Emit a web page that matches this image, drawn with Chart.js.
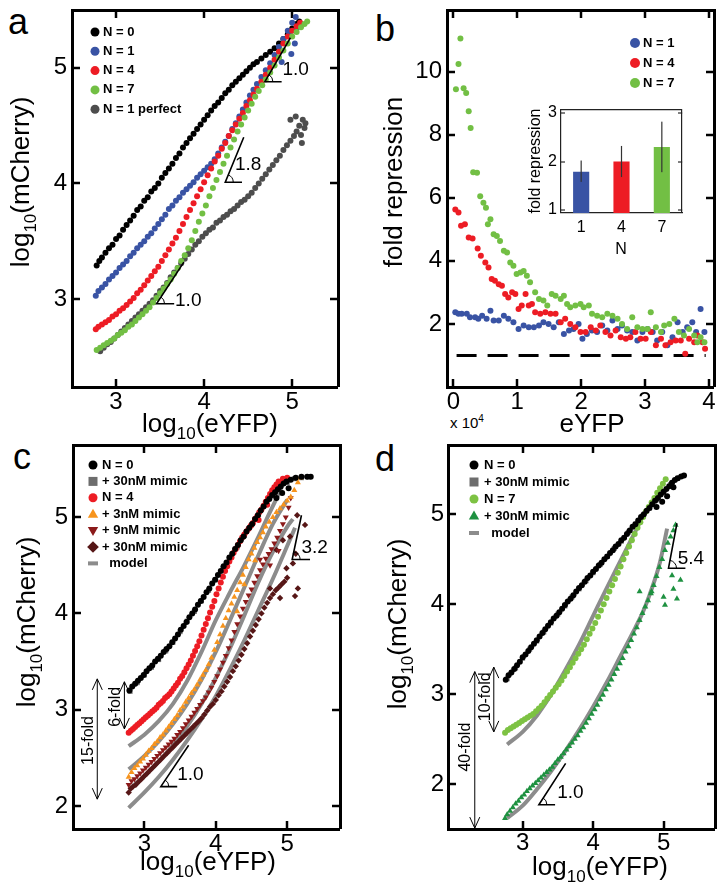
<!DOCTYPE html>
<html>
<head>
<meta charset="utf-8">
<script src="https://cdn.jsdelivr.net/npm/chart.js@4"></script>
<style>
  body { margin: 0; background: #fff; width: 725px; height: 891px; position: relative; overflow: hidden;
         font-family: "Liberation Sans", Arial, sans-serif; }
  canvas { position: absolute; }
  .letter { position: absolute; font-size: 36px; line-height: 1; color: #000; }
  .mult { position: absolute; font-size: 15px; line-height: 1; color: #000; }
  .mult sup { font-size: 10px; vertical-align: 6px; }
</style>
</head>
<body>
<div class="letter" style="left:8px;top:4px">a</div>
<div class="letter" style="left:375px;top:11px">b</div>
<div class="letter" style="left:13px;top:439px">c</div>
<div class="letter" style="left:375px;top:441px">d</div>
<div class="mult" style="left:450px;top:414px">x 10<sup>4</sup></div>

<canvas id="pa" width="362" height="440" style="left:0;top:0"></canvas>
<canvas id="pb" width="363" height="440" style="left:362px;top:0"></canvas>
<canvas id="inset" width="170" height="160" style="left:520px;top:100px"></canvas>
<canvas id="pc" width="362" height="451" style="left:0;top:440px"></canvas>
<canvas id="pd" width="363" height="451" style="left:362px;top:440px"></canvas>

<script>
const FONT = '"Liberation Sans", Arial, sans-serif';
Chart.defaults.font.family = FONT;
Chart.defaults.color = '#000';

// ---- panel a : log10(mCherry) vs log10(eYFP) ----
const aN0 = [[2.78,3.29],[2.81,3.33],[2.84,3.36],[2.88,3.40],[2.92,3.44],[2.96,3.47],[3.00,3.52],[3.04,3.55],[3.08,3.60],[3.12,3.64],[3.16,3.68],[3.20,3.72],[3.24,3.77],[3.28,3.80],[3.32,3.85],[3.36,3.88],[3.40,3.93],[3.44,3.96],[3.48,4.00],[3.52,4.05],[3.56,4.09],[3.60,4.13],[3.64,4.17],[3.68,4.22],[3.72,4.26],[3.76,4.31],[3.80,4.35],[3.84,4.39],[3.88,4.43],[3.92,4.47],[3.96,4.51],[4.00,4.55],[4.04,4.59],[4.08,4.63],[4.12,4.67],[4.16,4.70],[4.20,4.74],[4.24,4.78],[4.28,4.81],[4.32,4.85],[4.36,4.88],[4.40,4.91],[4.44,4.94],[4.48,4.97],[4.52,5.00],[4.56,5.03],[4.60,5.05],[4.65,5.08],[4.70,5.11],[4.75,5.14],[4.80,5.17],[4.85,5.21],[4.90,5.25],[4.95,5.29],[5.00,5.34],[5.05,5.38],[5.08,5.40]];
const aN1 = [[2.77,3.03],[2.80,3.07],[2.84,3.10],[2.88,3.13],[2.92,3.17],[2.96,3.20],[3.00,3.23],[3.04,3.27],[3.08,3.30],[3.12,3.33],[3.16,3.37],[3.20,3.40],[3.24,3.44],[3.28,3.47],[3.32,3.50],[3.36,3.54],[3.40,3.57],[3.44,3.61],[3.48,3.65],[3.52,3.69],[3.56,3.73],[3.60,3.78],[3.64,3.81],[3.68,3.85],[3.72,3.88],[3.76,3.92],[3.80,3.95],[3.84,3.98],[3.88,4.01],[3.92,4.05],[3.96,4.08],[4.00,4.11],[4.04,4.14],[4.08,4.17],[4.12,4.21],[4.16,4.26],[4.20,4.31],[4.24,4.36],[4.28,4.41],[4.32,4.47],[4.36,4.52],[4.40,4.58],[4.44,4.64],[4.48,4.70],[4.52,4.76],[4.56,4.81],[4.60,4.86],[4.65,4.92],[4.70,4.98],[4.75,5.04],[4.80,5.11],[4.85,5.18],[4.90,5.25],[4.95,5.32],[5.00,5.39],[5.04,5.44],[4.97,5.30],[5.03,5.21],[4.99,5.12],[4.88,5.05],[5.05,5.34]];
const aN4 = [[2.77,2.74],[2.80,2.76],[2.84,2.78],[2.88,2.80],[2.92,2.82],[2.96,2.85],[3.00,2.87],[3.04,2.90],[3.08,2.92],[3.12,2.95],[3.16,2.98],[3.20,3.01],[3.24,3.05],[3.28,3.08],[3.32,3.12],[3.36,3.16],[3.40,3.20],[3.44,3.24],[3.48,3.28],[3.52,3.33],[3.56,3.38],[3.60,3.43],[3.64,3.48],[3.68,3.53],[3.72,3.59],[3.76,3.65],[3.80,3.71],[3.84,3.77],[3.88,3.83],[3.92,3.89],[3.96,3.95],[4.00,4.01],[4.04,4.07],[4.08,4.13],[4.12,4.19],[4.16,4.24],[4.20,4.30],[4.24,4.35],[4.28,4.41],[4.32,4.46],[4.36,4.51],[4.40,4.56],[4.44,4.61],[4.48,4.67],[4.52,4.72],[4.56,4.77],[4.60,4.82],[4.65,4.88],[4.70,4.94],[4.75,5.00],[4.80,5.07],[4.85,5.14],[4.90,5.21],[4.95,5.27],[5.00,5.32],[5.05,5.36],[5.09,5.39]];
const aN7 = [[2.78,2.56],[2.82,2.58],[2.86,2.60],[2.90,2.62],[2.94,2.64],[2.98,2.66],[3.02,2.69],[3.06,2.71],[3.10,2.73],[3.14,2.76],[3.18,2.78],[3.22,2.81],[3.26,2.84],[3.30,2.87],[3.34,2.90],[3.38,2.93],[3.42,2.97],[3.46,3.01],[3.50,3.05],[3.54,3.09],[3.58,3.13],[3.62,3.17],[3.66,3.22],[3.70,3.27],[3.74,3.33],[3.78,3.38],[3.82,3.44],[3.86,3.51],[3.90,3.59],[3.94,3.67],[3.98,3.74],[4.02,3.81],[4.06,3.89],[4.10,3.96],[4.14,4.03],[4.18,4.10],[4.22,4.17],[4.26,4.24],[4.30,4.31],[4.34,4.38],[4.38,4.45],[4.42,4.51],[4.46,4.57],[4.50,4.63],[4.54,4.69],[4.58,4.75],[4.62,4.80],[4.66,4.85],[4.70,4.90],[4.75,4.96],[4.80,5.02],[4.85,5.09],[4.90,5.15],[4.95,5.21],[5.00,5.27],[5.05,5.31],[5.10,5.35],[5.14,5.38],[5.17,5.40]];
const aN1p = [[2.82,2.55],[2.86,2.58],[2.90,2.61],[2.94,2.63],[2.98,2.66],[3.02,2.69],[3.06,2.72],[3.10,2.75],[3.14,2.78],[3.18,2.81],[3.22,2.84],[3.26,2.87],[3.30,2.90],[3.34,2.93],[3.38,2.96],[3.42,2.99],[3.46,3.03],[3.50,3.07],[3.54,3.10],[3.58,3.14],[3.62,3.19],[3.66,3.23],[3.70,3.27],[3.74,3.31],[3.78,3.35],[3.82,3.39],[3.86,3.43],[3.90,3.47],[3.94,3.50],[3.98,3.54],[4.02,3.57],[4.06,3.60],[4.10,3.62],[4.14,3.66],[4.18,3.68],[4.22,3.71],[4.26,3.73],[4.30,3.76],[4.34,3.78],[4.38,3.81],[4.42,3.84],[4.46,3.86],[4.50,3.89],[4.54,3.92],[4.58,3.96],[4.62,4.00],[4.66,4.04],[4.70,4.08],[4.74,4.12],[4.78,4.16],[4.82,4.20],[4.86,4.24],[4.90,4.29],[4.94,4.33],[4.98,4.37],[5.02,4.41],[5.05,4.45],[5.08,4.50],[5.12,4.55],[5.10,4.42],[5.14,4.48],[5.04,4.58],[5.11,4.35],[5.15,4.52],[4.98,4.55]];
const aTicksX = [3, 4, 5];
const aTicksY = [3, 4, 5];

// ---- panel b : fold repression vs eYFP (x 10^4) ----
const bN1 = [[0.03,2.37],[0.08,2.32],[0.13,2.32],[0.21,2.32],[0.26,2.21],[0.34,2.21],[0.39,2.16],[0.45,2.26],[0.52,2.16],[0.58,2.42],[0.63,2.11],[0.71,2.11],[0.79,2.26],[0.86,2.16],[0.94,2.05],[1.02,1.84],[1.10,1.95],[1.18,1.89],[1.26,1.89],[1.34,1.95],[1.41,2.05],[1.49,2.00],[1.57,1.89],[1.65,2.05],[1.73,1.68],[1.81,1.79],[1.88,1.84],[1.96,2.00],[2.02,1.53],[2.09,1.68],[2.17,1.79],[2.25,1.74],[2.33,1.95],[2.41,1.79],[2.49,2.11],[2.57,1.84],[2.64,1.95],[2.72,1.79],[2.80,1.74],[2.88,1.47],[2.96,1.74],[3.04,1.84],[3.12,1.74],[3.19,1.47],[3.27,1.74],[3.35,1.32],[3.43,1.58],[3.51,2.05],[3.59,1.74],[3.66,1.89],[3.74,2.05],[3.80,1.74],[3.87,2.47],[3.93,1.74]];
const bN4 = [[0.03,5.63],[0.08,5.53],[0.12,5.11],[0.18,5.16],[0.24,4.74],[0.30,4.71],[0.38,4.39],[0.43,4.16],[0.50,3.95],[0.55,3.79],[0.60,3.42],[0.65,3.37],[0.71,3.26],[0.76,3.21],[0.81,2.95],[0.86,2.84],[0.92,3.00],[0.97,2.95],[1.02,2.47],[1.07,2.58],[1.13,2.95],[1.18,2.58],[1.23,2.63],[1.28,2.37],[1.36,2.32],[1.44,2.37],[1.52,2.32],[1.60,2.32],[1.68,2.05],[1.75,2.16],[1.83,2.00],[1.91,1.89],[1.99,1.74],[2.07,1.74],[2.15,1.89],[2.23,1.79],[2.30,1.95],[2.38,1.74],[2.46,1.63],[2.54,1.79],[2.62,1.58],[2.70,1.53],[2.77,1.58],[2.85,1.74],[2.93,1.53],[3.01,1.53],[3.09,1.74],[3.17,1.32],[3.25,1.53],[3.32,1.32],[3.40,1.42],[3.48,1.47],[3.56,1.47],[3.63,1.05],[3.69,1.53],[3.77,1.42],[3.82,1.63],[3.90,1.42],[3.94,1.21]];
const bN7 = [[0.04,9.44],[0.08,10.24],[0.11,11.05],[0.16,9.47],[0.20,9.32],[0.24,8.74],[0.27,8.21],[0.31,6.81],[0.37,6.79],[0.42,6.05],[0.47,5.84],[0.51,5.68],[0.54,5.16],[0.58,5.32],[0.63,4.84],[0.68,4.79],[0.73,4.63],[0.79,4.32],[0.84,4.26],[0.89,3.95],[0.94,3.84],[0.99,3.58],[1.05,3.63],[1.10,3.68],[1.15,3.53],[1.20,3.32],[1.28,3.00],[1.34,2.79],[1.41,2.74],[1.47,2.58],[1.54,2.95],[1.60,2.89],[1.68,2.79],[1.73,2.89],[1.78,2.63],[1.83,2.53],[1.91,2.58],[1.99,2.63],[2.04,2.53],[2.12,2.58],[2.17,2.32],[2.25,2.26],[2.33,2.21],[2.41,2.32],[2.49,2.26],[2.57,2.16],[2.64,2.00],[2.72,1.84],[2.80,2.21],[2.88,1.89],[2.96,1.84],[3.04,1.84],[3.09,2.37],[3.17,1.89],[3.25,1.74],[3.30,1.95],[3.38,2.00],[3.46,2.16],[3.53,1.74],[3.61,1.63],[3.69,1.84],[3.77,1.63],[3.82,1.42],[3.87,1.58],[3.93,1.42]];
const bNoRepression = [[0.05,1],[3.95,1]];
const bTicksX = [0, 1, 2, 3, 4];
const bTicksY = [2, 4, 6, 8, 10];

// inset of panel b
const insetN = ['1', '4', '7'];
const insetFold = [1.79, 2.0, 2.3];
const insetLow = [1.58, 1.68, 1.78];
const insetHigh = [2.02, 2.32, 2.82];
const insetTicksY = [1, 2, 3];

// ---- panel c ----
const cN0 = [[2.79,3.20],[2.83,3.24],[2.87,3.27],[2.91,3.30],[2.95,3.33],[2.99,3.36],[3.03,3.40],[3.07,3.43],[3.11,3.46],[3.15,3.50],[3.19,3.53],[3.23,3.56],[3.27,3.60],[3.31,3.63],[3.35,3.66],[3.39,3.70],[3.43,3.74],[3.47,3.78],[3.51,3.83],[3.55,3.87],[3.59,3.91],[3.63,3.96],[3.67,4.00],[3.71,4.04],[3.75,4.09],[3.79,4.13],[3.83,4.17],[3.87,4.22],[3.91,4.26],[3.95,4.31],[3.99,4.35],[4.03,4.40],[4.07,4.44],[4.11,4.49],[4.15,4.53],[4.19,4.58],[4.23,4.62],[4.27,4.67],[4.31,4.71],[4.35,4.76],[4.39,4.80],[4.43,4.85],[4.47,4.89],[4.51,4.93],[4.55,4.98],[4.59,5.02],[4.63,5.07],[4.67,5.11],[4.71,5.16],[4.75,5.19],[4.79,5.23],[4.83,5.26],[4.87,5.29],[4.91,5.32],[4.95,5.35],[4.99,5.37],[5.05,5.39],[5.12,5.41],[5.20,5.42],[5.28,5.42],[5.33,5.42],[4.93,5.25],[5.02,5.30],[4.85,5.20]];
const cN0mimic = [[2.80,3.19],[2.90,3.28],[3.00,3.36],[3.10,3.44],[3.20,3.52],[3.30,3.61],[3.40,3.70],[3.50,3.81],[3.60,3.92],[3.70,4.02],[3.80,4.13],[3.90,4.24],[4.00,4.35],[4.10,4.47],[4.20,4.58],[4.30,4.69],[4.40,4.81],[4.50,4.92],[4.60,5.03],[4.70,5.14],[4.80,5.22],[4.90,5.30],[5.00,5.36],[5.10,5.40],[5.20,5.41],[5.30,5.42]];
const cN4 = [[2.78,2.76],[2.81,2.78],[2.84,2.80],[2.87,2.82],[2.90,2.84],[2.93,2.86],[2.96,2.88],[2.99,2.90],[3.02,2.92],[3.05,2.94],[3.08,2.96],[3.11,2.98],[3.14,3.00],[3.17,3.02],[3.20,3.05],[3.23,3.07],[3.26,3.09],[3.29,3.12],[3.32,3.14],[3.35,3.16],[3.38,3.19],[3.41,3.22],[3.44,3.25],[3.47,3.28],[3.50,3.32],[3.53,3.35],[3.56,3.39],[3.59,3.43],[3.62,3.47],[3.65,3.51],[3.68,3.56],[3.71,3.61],[3.74,3.66],[3.77,3.71],[3.80,3.77],[3.83,3.83],[3.86,3.89],[3.89,3.95],[3.92,4.01],[3.95,4.07],[3.98,4.13],[4.01,4.20],[4.04,4.26],[4.07,4.32],[4.10,4.38],[4.13,4.44],[4.16,4.49],[4.19,4.54],[4.22,4.58],[4.25,4.63],[4.28,4.67],[4.31,4.71],[4.34,4.75],[4.37,4.79],[4.40,4.82],[4.43,4.85],[4.46,4.88],[4.49,4.91],[4.52,4.94],[4.55,4.98],[4.58,5.01],[4.61,5.05],[4.64,5.08],[4.67,5.12],[4.70,5.16],[4.73,5.20],[4.76,5.24],[4.79,5.28],[4.82,5.31],[4.85,5.34],[4.88,5.37],[4.94,5.40],[5.00,5.41],[4.60,4.97],[4.72,5.13]];
const cN4m3 = [[2.78,2.30],[2.82,2.35],[2.86,2.39],[2.90,2.42],[2.94,2.46],[2.98,2.49],[3.02,2.53],[3.06,2.57],[3.10,2.60],[3.14,2.64],[3.18,2.67],[3.22,2.71],[3.26,2.74],[3.30,2.78],[3.34,2.82],[3.38,2.86],[3.42,2.90],[3.46,2.94],[3.50,2.99],[3.54,3.03],[3.58,3.08],[3.62,3.12],[3.66,3.17],[3.70,3.21],[3.74,3.26],[3.78,3.31],[3.82,3.36],[3.86,3.41],[3.90,3.47],[3.94,3.54],[3.98,3.62],[4.02,3.70],[4.06,3.78],[4.10,3.87],[4.14,3.95],[4.18,4.03],[4.22,4.10],[4.26,4.17],[4.30,4.24],[4.34,4.32],[4.38,4.40],[4.42,4.48],[4.46,4.56],[4.50,4.62],[4.54,4.68],[4.58,4.74],[4.62,4.79],[4.66,4.84],[4.70,4.90],[4.75,4.95],[4.80,5.00],[4.85,5.05],[4.90,5.09],[4.95,5.13],[5.00,5.17],[5.05,5.21],[5.10,5.28],[5.15,5.36],[5.18,5.41],[4.30,4.02],[4.40,4.30],[4.55,4.55]];
const cN4m9 = [[2.78,2.22],[2.82,2.26],[2.86,2.28],[2.90,2.31],[2.94,2.34],[2.98,2.37],[3.02,2.40],[3.06,2.43],[3.10,2.46],[3.14,2.49],[3.18,2.52],[3.22,2.55],[3.26,2.58],[3.30,2.61],[3.34,2.64],[3.38,2.67],[3.42,2.70],[3.46,2.74],[3.50,2.77],[3.54,2.81],[3.58,2.85],[3.62,2.89],[3.66,2.93],[3.70,2.97],[3.74,3.01],[3.78,3.05],[3.82,3.09],[3.86,3.13],[3.90,3.18],[3.94,3.23],[3.98,3.29],[4.02,3.35],[4.06,3.42],[4.10,3.49],[4.14,3.56],[4.18,3.64],[4.22,3.72],[4.26,3.81],[4.30,3.89],[4.34,3.97],[4.38,4.05],[4.42,4.12],[4.46,4.19],[4.50,4.25],[4.54,4.32],[4.58,4.39],[4.62,4.45],[4.66,4.51],[4.70,4.57],[4.74,4.62],[4.78,4.67],[4.82,4.73],[4.86,4.79],[4.90,4.86],[4.94,4.93],[4.98,5.00],[5.02,5.10],[5.05,5.20],[4.76,4.50],[4.88,4.65],[4.62,4.56]];
const cN4m30 = [[2.78,2.14],[2.81,2.18],[2.84,2.20],[2.88,2.22],[2.92,2.25],[2.96,2.28],[3.00,2.31],[3.04,2.34],[3.08,2.37],[3.12,2.40],[3.16,2.43],[3.20,2.46],[3.24,2.49],[3.28,2.52],[3.32,2.55],[3.36,2.58],[3.40,2.61],[3.44,2.64],[3.48,2.67],[3.52,2.70],[3.56,2.73],[3.60,2.76],[3.64,2.79],[3.68,2.82],[3.72,2.85],[3.76,2.88],[3.80,2.91],[3.84,2.95],[3.88,2.99],[3.92,3.03],[3.96,3.06],[4.00,3.10],[4.04,3.15],[4.08,3.19],[4.12,3.24],[4.16,3.29],[4.20,3.34],[4.24,3.40],[4.28,3.45],[4.32,3.51],[4.36,3.57],[4.40,3.63],[4.44,3.69],[4.48,3.76],[4.52,3.82],[4.56,3.88],[4.60,3.94],[4.64,4.00],[4.68,4.06],[4.72,4.11],[4.76,4.16],[4.80,4.20],[4.84,4.24],[4.88,4.27],[4.92,4.30],[4.96,4.33],[5.00,4.37],[5.08,4.52],[5.15,4.26],[5.11,4.18],[4.94,4.76],[4.85,4.66],[5.14,5.02],[5.04,4.80],[5.12,4.62],[4.99,4.47],[4.76,4.26],[4.90,4.16],[5.25,4.92]];
const cModelN4 = [[2.78,2.62],[3.0,2.74],[3.2,2.88],[3.4,3.06],[3.6,3.30],[3.8,3.60],[4.0,3.93],[4.2,4.22],[4.4,4.50],[4.6,4.80],[4.75,5.04],[4.9,5.27]];
const cModelM3 = [[2.78,2.38],[3.0,2.52],[3.2,2.67],[3.4,2.85],[3.6,3.06],[3.8,3.31],[4.0,3.60],[4.2,3.93],[4.4,4.27],[4.6,4.61],[4.8,4.93],[5.0,5.18]];
const cModelM9 = [[2.78,2.17],[3.0,2.31],[3.2,2.46],[3.4,2.63],[3.6,2.83],[3.8,3.06],[4.0,3.33],[4.2,3.64],[4.4,3.98],[4.6,4.33],[4.8,4.64],[5.0,4.90],[5.08,4.98]];
const cModelM30 = [[2.78,1.98],[3.0,2.14],[3.2,2.30],[3.4,2.48],[3.6,2.68],[3.8,2.90],[4.0,3.14],[4.2,3.42],[4.4,3.72],[4.6,4.04],[4.8,4.36],[5.0,4.70],[5.11,4.89]];
const cTicksX = [3, 4, 5];
const cTicksY = [2, 3, 4, 5];

// ---- panel d ----
const dN0 = [[2.76,3.16],[2.80,3.21],[2.84,3.24],[2.88,3.28],[2.92,3.32],[2.96,3.36],[3.00,3.41],[3.04,3.44],[3.08,3.48],[3.12,3.52],[3.16,3.56],[3.20,3.60],[3.24,3.64],[3.28,3.68],[3.32,3.72],[3.36,3.76],[3.40,3.80],[3.44,3.84],[3.48,3.87],[3.52,3.91],[3.56,3.95],[3.60,3.99],[3.64,4.03],[3.68,4.06],[3.72,4.10],[3.76,4.14],[3.80,4.18],[3.84,4.21],[3.88,4.25],[3.92,4.29],[3.96,4.32],[4.00,4.36],[4.04,4.39],[4.08,4.43],[4.12,4.46],[4.16,4.50],[4.20,4.53],[4.24,4.57],[4.28,4.60],[4.32,4.64],[4.36,4.67],[4.40,4.71],[4.44,4.74],[4.48,4.78],[4.52,4.82],[4.56,4.86],[4.60,4.89],[4.64,4.93],[4.68,4.97],[4.72,5.00],[4.76,5.04],[4.80,5.07],[4.84,5.11],[4.88,5.15],[4.92,5.18],[4.96,5.22],[5.00,5.25],[5.04,5.28],[5.08,5.31],[5.12,5.35],[5.16,5.38],[5.20,5.40],[5.25,5.42],[5.29,5.43],[4.98,5.14],[5.05,5.20],[5.14,5.30],[4.90,5.08]];
const dN0mimic = [[2.78,3.17],[2.90,3.29],[3.00,3.40],[3.10,3.50],[3.20,3.59],[3.30,3.69],[3.40,3.79],[3.50,3.89],[3.60,3.98],[3.70,4.08],[3.80,4.17],[3.90,4.26],[4.00,4.35],[4.10,4.44],[4.20,4.53],[4.30,4.62],[4.40,4.70],[4.50,4.80],[4.60,4.89],[4.70,4.98],[4.80,5.07],[4.90,5.16],[5.00,5.24],[5.10,5.33],[5.20,5.40]];
const dN7 = [[2.75,2.57],[2.79,2.60],[2.83,2.62],[2.87,2.64],[2.91,2.66],[2.95,2.68],[2.99,2.70],[3.03,2.72],[3.07,2.74],[3.11,2.76],[3.15,2.78],[3.19,2.81],[3.23,2.84],[3.27,2.87],[3.31,2.91],[3.35,2.95],[3.39,2.99],[3.43,3.03],[3.47,3.07],[3.51,3.11],[3.55,3.15],[3.59,3.20],[3.63,3.25],[3.67,3.30],[3.71,3.35],[3.75,3.40],[3.79,3.45],[3.83,3.50],[3.87,3.55],[3.91,3.61],[3.95,3.67],[3.99,3.73],[4.03,3.79],[4.07,3.86],[4.11,3.93],[4.15,4.00],[4.19,4.07],[4.23,4.14],[4.27,4.21],[4.31,4.28],[4.35,4.35],[4.39,4.42],[4.43,4.50],[4.47,4.57],[4.51,4.64],[4.55,4.71],[4.59,4.78],[4.63,4.85],[4.67,4.91],[4.71,4.97],[4.75,5.03],[4.79,5.08],[4.83,5.13],[4.87,5.18],[4.91,5.24],[4.95,5.29],[4.99,5.34],[5.03,5.39]];
const dN7m30 = [[2.75,1.62],[2.78,1.66],[2.82,1.70],[2.86,1.74],[2.90,1.78],[2.94,1.81],[2.98,1.85],[3.02,1.88],[3.06,1.92],[3.10,1.95],[3.14,1.98],[3.18,2.01],[3.22,2.04],[3.26,2.07],[3.30,2.10],[3.34,2.13],[3.38,2.16],[3.42,2.19],[3.46,2.23],[3.50,2.27],[3.54,2.30],[3.58,2.34],[3.62,2.38],[3.66,2.42],[3.70,2.46],[3.74,2.50],[3.78,2.54],[3.82,2.59],[3.86,2.63],[3.90,2.68],[3.94,2.73],[3.98,2.78],[4.02,2.83],[4.06,2.88],[4.10,2.94],[4.14,2.99],[4.18,3.05],[4.22,3.10],[4.26,3.16],[4.30,3.22],[4.34,3.28],[4.38,3.34],[4.42,3.40],[4.46,3.47],[4.50,3.53],[4.54,3.60],[4.58,3.67],[4.62,3.74],[4.66,3.82],[4.70,3.90],[4.74,3.97],[4.78,4.04],[4.82,4.12],[4.86,4.21],[4.90,4.31],[4.94,4.41],[4.98,4.50],[5.02,4.60],[5.06,4.68],[5.10,4.75],[5.14,4.82],[5.17,4.88],[5.14,4.17],[5.00,4.08],[5.24,4.27],[5.02,3.99],[5.19,4.06],[4.83,4.14],[5.12,4.32],[4.66,4.14]];
const dModelN7 = [[2.78,2.44],[3.0,2.58],[3.2,2.76],[3.4,2.99],[3.6,3.26],[3.8,3.55],[4.0,3.87],[4.2,4.19],[4.4,4.50],[4.6,4.81],[4.72,5.0]];
const dModelM30 = [[2.78,1.62],[3.0,1.76],[3.2,1.94],[3.4,2.14],[3.6,2.36],[3.8,2.60],[4.0,2.86],[4.2,3.14],[4.4,3.44],[4.6,3.74],[4.7,3.90],[4.8,4.10],[4.95,4.47],[5.05,4.84]];
const dTicksX = [3, 4, 5];
const dTicksY = [2, 3, 4, 5];

// axis titles
const logMCherry = [{t: 'log'}, {t: '10', sub: true}, {t: '(mCherry)'}];
const logEYFP = [{t: 'log'}, {t: '10', sub: true}, {t: '(eYFP)'}];

const BLACK = '#000000', BLUE = '#3953a4', RED = '#ed1c24', GREEN = '#72bf44', DGRAY = '#4d4d4d';
const ORANGE = '#f7941d', MAROON = '#8b1a1a', DMAROON = '#561616', MGRAY = '#6d6d6d';
const LGREEN = '#7dc243', DGREEN = '#1e9140', MODEL = '#8c8c8c';

function pts(arr) { return arr.map(p => ({ x: p[0], y: p[1] })); }

function dots(label, arr, color, style, r, order, rot) {
  return { label: label, key: true, data: pts(arr), backgroundColor: color, borderWidth: 0,
           pointStyle: style, pointRadius: r, pointRotation: rot || 0, order: order, xAxisID: 'x', yAxisID: 'y' };
}
function curve(label, arr, key, order) {
  return { label: label, key: key, data: pts(arr), showLine: true, borderColor: MODEL, borderWidth: 4,
           pointRadius: 0, tension: 0.4, cubicInterpolationMode: 'monotone', fill: false, order: order,
           xAxisID: 'x', yAxisID: 'y' };
}

function marker(ctx, style, x, y, r, rot) {
  ctx.beginPath();
  if (style === 'rect') {
    ctx.rect(x - r, y - r, 2 * r, 2 * r);
  } else if (style === 'rectRot') {
    ctx.moveTo(x, y - r * 1.3); ctx.lineTo(x + r * 1.3, y); ctx.lineTo(x, y + r * 1.3); ctx.lineTo(x - r * 1.3, y); ctx.closePath();
  } else if (style === 'triangle') {
    const s = rot ? -1 : 1;
    ctx.moveTo(x, y - s * r * 1.2); ctx.lineTo(x + r * 1.15, y + s * r * 0.8); ctx.lineTo(x - r * 1.15, y + s * r * 0.8); ctx.closePath();
  } else {
    ctx.arc(x, y, r, 0, Math.PI * 2);
  }
  ctx.fill();
}

function drawParts(ctx, parts, cx, cy, rot, size) {
  const sub = Math.round(size * 0.65);
  let w = 0;
  parts.forEach(p => { ctx.font = (p.sub ? sub : size) + 'px ' + FONT; w += ctx.measureText(p.t).width; });
  ctx.save();
  ctx.translate(cx, cy);
  ctx.rotate(rot);
  ctx.fillStyle = '#000';
  ctx.textBaseline = 'alphabetic';
  ctx.textAlign = 'left';
  let x = -w / 2;
  const base = size * 0.35;
  parts.forEach(p => {
    ctx.font = (p.sub ? sub : size) + 'px ' + FONT;
    ctx.fillText(p.t, x, base + (p.sub ? size * 0.27 : 0));
    x += ctx.measureText(p.t).width;
  });
  ctx.restore();
}

// in-plot legend built from the datasets
function drawKeys(chart, o) {
  const ctx = chart.ctx;
  let row = 0;
  ctx.save();
  chart.data.datasets.forEach(ds => {
    if (!ds.key) return;
    const y = o.y + row * o.gap;
    if (ds.showLine) {
      ctx.fillStyle = ds.borderColor;
      ctx.fillRect(o.x - 5, y - 2, 10, 4);
    } else {
      ctx.fillStyle = ds.backgroundColor;
      marker(ctx, ds.pointStyle, o.x, y, o.r, ds.pointRotation);
    }
    ctx.fillStyle = '#000';
    ctx.font = 'bold 13px ' + FONT;
    ctx.textBaseline = 'middle';
    ctx.textAlign = 'left';
    ctx.fillText(ds.label, o.x + o.tx, y);
    row++;
  });
  ctx.restore();
}

// slope triangles, fold-change arrows and their labels, placed in data units
function drawMarks(chart, o) {
  const ctx = chart.ctx, sx = chart.scales.x, sy = chart.scales.y;
  const X = v => sx.getPixelForValue(v), Y = v => sy.getPixelForValue(v);
  ctx.save();
  ctx.strokeStyle = '#000';
  ctx.fillStyle = '#000';
  (o.slopes || []).forEach(s => {
    const x0 = X(s.x0), y0 = Y(s.y0), x1 = X(s.x1), y1 = Y(s.y1), xb = X(s.xb);
    ctx.lineWidth = 1.6;
    ctx.beginPath(); ctx.moveTo(x1, y1); ctx.lineTo(x0, y0); ctx.lineTo(xb, y0); ctx.stroke();
    ctx.lineWidth = 1;
    ctx.beginPath(); ctx.arc(x0, y0, 8, Math.atan2(y1 - y0, x1 - x0), 0); ctx.stroke();
    ctx.font = '19px ' + FONT; ctx.textBaseline = 'middle'; ctx.textAlign = 'left';
    ctx.fillText(s.label, X(s.lx), Y(s.ly));
  });
  (o.arrows || []).forEach(r => {
    const x = X(r.x), yt = Y(r.y0), yb = Y(r.y1);
    ctx.lineWidth = 1;
    ctx.beginPath();
    ctx.moveTo(x, yt); ctx.lineTo(x, yb);
    ctx.moveTo(x - 5, yt + 11); ctx.lineTo(x, yt); ctx.lineTo(x + 5, yt + 11);
    ctx.moveTo(x - 5, yb - 11); ctx.lineTo(x, yb); ctx.lineTo(x + 5, yb - 11);
    ctx.stroke();
  });
  (o.texts || []).forEach(t => {
    ctx.save();
    ctx.translate(X(t.x), Y(t.y));
    ctx.rotate(-Math.PI / 2);
    ctx.font = '16px ' + FONT; ctx.textBaseline = 'middle'; ctx.textAlign = 'center';
    ctx.fillText(t.t, 0, 0);
    ctx.restore();
  });
  ctx.restore();
}

function overlay(cfg) {
  return {
    id: 'overlay',
    afterDatasetsDraw(chart) {
      if (cfg.marks) drawMarks(chart, cfg.marks);
      if (cfg.keys) drawKeys(chart, cfg.keys);
      if (cfg.err) cfg.err(chart);
      const f = cfg.titles;
      if (f.y) drawParts(chart.ctx, f.y.parts, f.y.x, f.y.y, -Math.PI / 2, f.size);
      if (f.x) drawParts(chart.ctx, f.x.parts, f.x.x, f.x.y, 0, f.size);
    }
  };
}

// fixed scale size, and no extra label overhang pushed onto the chart area
function fixSize(s, dim, size) {
  if (dim === 'w') s.width = size; else s.height = size;
  s.paddingTop = 0; s.paddingBottom = 0; s.paddingLeft = 0; s.paddingRight = 0;
}

// labelled axis with an inward tick mark (negative tick length) and a heavy border
function axis(range, ticks, pad, dim, size, fontSize, tick, box) {
  return {
    type: 'linear', min: range[0], max: range[1],
    grid: { display: true, drawOnChartArea: false, drawTicks: true, tickLength: -tick.len,
            tickWidth: tick.width, tickColor: '#000', lineWidth: 0 },
    border: { display: true, width: box.width, color: box.color },
    ticks: { padding: pad + tick.len, font: { size: fontSize || 24 }, color: '#000', autoSkip: false, maxRotation: 0 },
    afterBuildTicks: s => { s.ticks = ticks.map(v => ({ value: v })); },
    afterFit: s => fixSize(s, dim, size)
  };
}
// unlabelled mirror axis (top / right) that closes the box
function mirror(range, ticks, position, tick, box) {
  return {
    type: 'linear', position: position, min: range[0], max: range[1],
    grid: { display: tick.len > 0, drawOnChartArea: false, drawTicks: true, tickLength: -tick.len,
            tickWidth: tick.width, tickColor: '#000', lineWidth: 0 },
    border: { display: true, width: box.width, color: box.color },
    ticks: { display: false },
    afterBuildTicks: s => { s.ticks = ticks.map(v => ({ value: v })); },
    afterFit: s => fixSize(s, position === 'top' ? 'h' : 'w', 0)
  };
}

const MAIN_TICK = { len: 8, width: 2.5 };
const MAIN_BOX = { width: 3, color: '#000' };

function panel(id, sets, c) {
  return new Chart(document.getElementById(id), {
    type: 'scatter',
    data: { datasets: sets },
    options: {
      responsive: false, animation: false, events: [],
      layout: { padding: { top: c.pad[0], right: c.pad[1], bottom: 0, left: 0 } },
      scales: {
        x: axis(c.x, c.xTicks, c.xPad, 'h', c.xH, 24, MAIN_TICK, MAIN_BOX),
        y: axis(c.y, c.yTicks, c.yPad, 'w', c.yW, 24, MAIN_TICK, MAIN_BOX),
        xTop: mirror(c.x, c.xTicks, 'top', MAIN_TICK, MAIN_BOX),
        yRight: mirror(c.y, c.yTicks, 'right', MAIN_TICK, MAIN_BOX)
      },
      plugins: { legend: { display: false }, tooltip: { enabled: false } }
    },
    plugins: [overlay({ titles: Object.assign({ size: 26 }, c.titles), keys: c.keys, marks: c.marks })]
  });
}

// panel a
panel('pa', [
  dots('N = 0', aN0, BLACK, 'circle', 3, 4),
  dots('N = 1', aN1, BLUE, 'circle', 3, 3),
  dots('N = 4', aN4, RED, 'circle', 3, 2),
  dots('N = 7', aN7, GREEN, 'circle', 3, 0),
  dots('N = 1 perfect', aN1p, DGRAY, 'circle', 3, 1)
], {
  x: [2.5, 5.52], y: [2.24, 5.5], xTicks: aTicksX, yTicks: aTicksY,
  pad: [10, 24], yW: 72, xH: 53, xPad: 1, yPad: 5,
  titles: { y: { parts: logMCherry, x: 20, y: 182 }, x: { parts: logEYFP, x: 210, y: 423 } },
  keys: { x: 95, y: 32, gap: 19.3, r: 4.5, tx: 8 },
  marks: {
    slopes: [
      { x0: 4.69, y0: 4.88, x1: 4.98, y1: 5.26, xb: 4.88, label: '1.0', lx: 4.89, ly: 4.98 },
      { x0: 4.24, y0: 4.01, x1: 4.45, y1: 4.40, xb: 4.43, label: '1.8', lx: 4.35, ly: 4.16 },
      { x0: 3.46, y0: 2.96, x1: 3.77, y1: 3.32, xb: 3.66, label: '1.0', lx: 3.67, ly: 2.99 }
    ]
  }
});

// panel b
panel('pb', [
  dots('N = 1', bN1, BLUE, 'circle', 3, 2),
  dots('N = 4', bN4, RED, 'circle', 3, 1),
  dots('N = 7', bN7, GREEN, 'circle', 3, 0),
  { label: 'no repression', data: pts(bNoRepression), showLine: true, borderColor: '#000', borderWidth: 3,
    borderDash: [20, 11], pointRadius: 0, order: 3, xAxisID: 'x', yAxisID: 'y' }
], {
  x: [-0.1, 4.08], y: [0, 11.95], xTicks: bTicksX, yTicks: bTicksY,
  pad: [10, 11], yW: 85, xH: 53, xPad: 1, yPad: 5,
  titles: { y: { parts: [{ t: 'fold repression' }], x: 31, y: 182 }, x: { parts: [{ t: 'eYFP' }], x: 230, y: 423 } },
  keys: { x: 273, y: 43, gap: 20, r: 5, tx: 8 }
});

// inset bar chart with error bars
function drawErrors(chart) {
  const ctx = chart.ctx, sy = chart.scales.y, meta = chart.getDatasetMeta(0);
  ctx.save();
  ctx.fillStyle = '#333';
  meta.data.forEach((bar, i) => {
    const top = sy.getPixelForValue(insetHigh[i]), bottom = sy.getPixelForValue(insetLow[i]);
    ctx.fillRect(bar.x - 0.6, top, 1.2, bottom - top);
  });
  ctx.restore();
}
const INSET_TICK = { len: 4, width: 1 };
const INSET_BOX = { width: 1.2, color: '#222' };
new Chart(document.getElementById('inset'), {
  type: 'bar',
  data: { labels: insetN, datasets: [{ data: insetFold, backgroundColor: [BLUE, RED, GREEN], barPercentage: 0.8,
          categoryPercentage: 0.5, xAxisID: 'x', yAxisID: 'y' }] },
  options: {
    responsive: false, animation: false, events: [],
    layout: { padding: { top: 10, right: 8, bottom: 0, left: 0 } },
    scales: {
      x: { grid: { display: false, drawTicks: false }, border: { display: true, width: INSET_BOX.width, color: INSET_BOX.color },
           ticks: { padding: 5, font: { size: 16 }, color: '#000' }, afterFit: s => fixSize(s, 'h', 47) },
      y: axis([0.94, 3.06], insetTicksY, 4, 'w', 41, 16, INSET_TICK, INSET_BOX),
      xTop: mirror([0.94, 3.06], [], 'top', { len: 0, width: 0 }, INSET_BOX),
      yRight: mirror([0.94, 3.06], insetTicksY, 'right', INSET_TICK, INSET_BOX)
    },
    plugins: { legend: { display: false }, tooltip: { enabled: false } }
  },
  plugins: [overlay({
    err: drawErrors,
    titles: { size: 16, y: { parts: [{ t: 'fold repression' }], x: 14, y: 61 }, x: { parts: [{ t: 'N' }], x: 101, y: 148 } }
  })]
});

// panel c
panel('pc', [
  dots('N = 0', cN0, BLACK, 'circle', 3, 0),
  dots('+ 30nM mimic', cN0mimic, MGRAY, 'rect', 3.5, 5),
  dots('N = 4', cN4, RED, 'circle', 3, 1),
  dots('+ 3nM mimic', cN4m3, ORANGE, 'triangle', 3.5, 2),
  dots('+ 9nM mimic', cN4m9, MAROON, 'triangle', 3.5, 3, 180),
  dots('+ 30nM mimic', cN4m30, DMAROON, 'rectRot', 3.2, 4),
  curve('  model', cModelN4, true, 6),
  curve('model', cModelM3, false, 6),
  curve('model', cModelM9, false, 6),
  curve('model', cModelM30, false, 6)
], {
  x: [2.0, 5.74], y: [1.76, 5.75], xTicks: cTicksX, yTicks: cTicksY,
  pad: [5, 22], yW: 73, xH: 62, xPad: 1, yPad: 5,
  titles: { y: { parts: logMCherry, x: 26, y: 182 }, x: { parts: logEYFP, x: 208, y: 421 } },
  keys: { x: 93, y: 25, gap: 16.4, r: 4.5, tx: 9 },
  marks: {
    slopes: [
      { x0: 5.07, y0: 4.56, x1: 5.20, y1: 5.02, xb: 5.32, label: '3.2', lx: 5.20, ly: 4.68 },
      { x0: 3.23, y0: 2.20, x1: 3.62, y1: 2.63, xb: 3.46, label: '1.0', lx: 3.46, ly: 2.32 }
    ],
    arrows: [ { x: 2.34, y0: 3.32, y1: 2.07 }, { x: 2.72, y0: 3.29, y1: 2.80 } ],
    texts: [ { t: '15-fold', x: 2.22, y: 2.68 }, { t: '6-fold', x: 2.60, y: 3.03 } ]
  }
});

// panel d
panel('pd', [
  dots('N = 0', dN0, BLACK, 'circle', 3, 0),
  dots('+ 30nM mimic', dN0mimic, MGRAY, 'rect', 3.5, 3),
  dots('N = 7', dN7, LGREEN, 'circle', 3, 1),
  dots('+ 30nM mimic', dN7m30, DGREEN, 'triangle', 3.5, 2),
  curve('  model', dModelN7, true, 4),
  curve('model', dModelM30, false, 4)
], {
  x: [1.94, 5.73], y: [1.5, 5.77], xTicks: dTicksX, yTicks: dTicksY,
  pad: [5, 10], yW: 86, xH: 62, xPad: 0, yPad: 4,
  titles: { y: { parts: logMCherry, x: 35, y: 184 }, x: { parts: logEYFP, x: 238, y: 426 } },
  keys: { x: 112, y: 25, gap: 17, r: 4.5, tx: 10 },
  marks: {
    slopes: [
      { x0: 5.07, y0: 4.40, x1: 5.19, y1: 4.90, xb: 5.31, label: '5.4', lx: 5.20, ly: 4.51 },
      { x0: 3.23, y0: 1.77, x1: 3.61, y1: 2.23, xb: 3.46, label: '1.0', lx: 3.49, ly: 1.90 }
    ],
    arrows: [ { x: 2.32, y0: 3.25, y1: 1.51 }, { x: 2.59, y0: 3.30, y1: 2.58 } ],
    texts: [ { t: '40-fold', x: 2.19, y: 2.41 }, { t: '10-fold', x: 2.47, y: 2.97 } ]
  }
});
</script>
</body>
</html>
